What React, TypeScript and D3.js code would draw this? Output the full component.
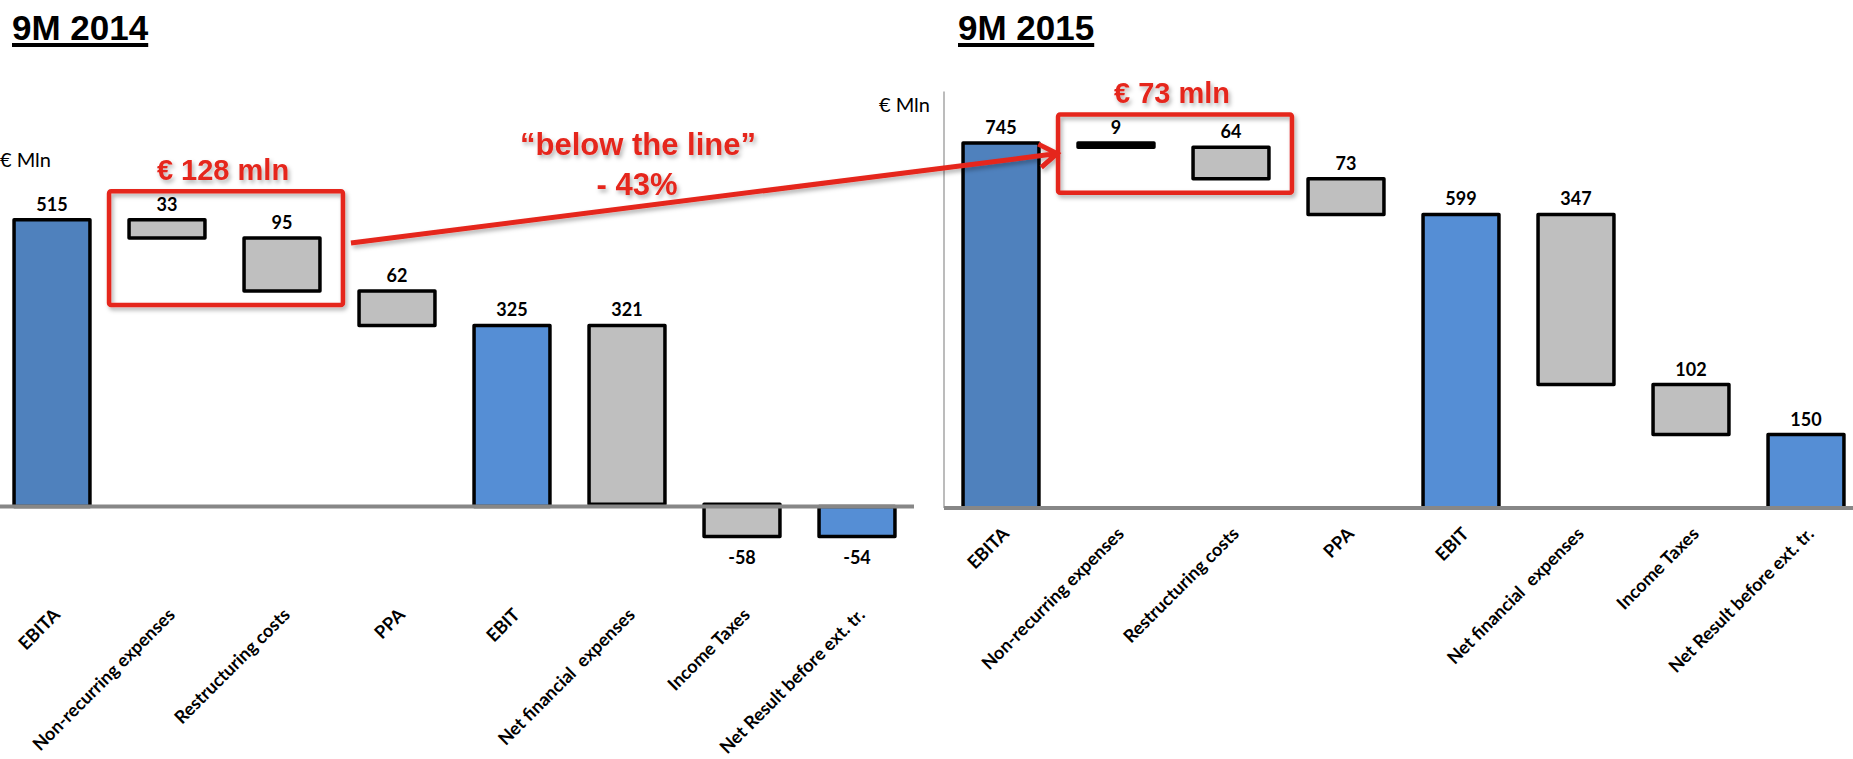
import { useEffect, useRef } from "react";
import * as d3 from "d3";

const categories = [
  "EBITA",
  "Non-recurring expenses",
  "Restructuring costs",
  "PPA",
  "EBIT",
  "Net financial  expenses",
  "Income Taxes",
  "Net Result before ext. tr.",
];
const barKinds = ["start", "delta", "delta", "delta", "total", "delta", "delta", "total"];
const values2014 = [515, -33, -95, -62, 325, -321, -58, -54];
const labels2014 = ["515", "33", "95", "62", "325", "321", "-58", "-54"];
const values2015 = [745, -9, -64, -73, 599, -347, -102, 150];
const labels2015 = ["745", "9", "64", "73", "599", "347", "102", "150"];

const RED = "#e5261c";
const fillFor: Record<string, string> = { start: "#4f81bd", total: "#558ed5", delta: "#bfbfbf" };

interface Step {
  cat: string;
  lo: number;
  hi: number;
  kind: string;
  label: string;
  neg: boolean;
}

function waterfall(values: number[], labels: string[]): Step[] {
  let run = 0;
  return values.map((v, i) => {
    const kind = barKinds[i];
    let a = 0, b = 0;
    if (kind === "delta") {
      a = run;
      b = run + v;
    } else {
      a = 0;
      b = v;
    }
    run = b;
    return { cat: categories[i], lo: Math.min(a, b), hi: Math.max(a, b), kind, label: labels[i], neg: labels[i].startsWith("-") };
  });
}

export default function App() {
  const ref = useRef<SVGSVGElement>(null);

  useEffect(() => {
    if (!ref.current) return;
    document.body.style.margin = "0";
    document.body.style.overflow = "hidden";
    const svg = d3.select(ref.current);
    svg.selectAll("*").remove();

    const defs = svg.append("defs");
    const f = defs.append("filter").attr("id", "shadow").attr("x", "-10%").attr("y", "-10%").attr("width", "130%").attr("height", "140%");
    f.append("feDropShadow").attr("dx", 2).attr("dy", 3).attr("stdDeviation", 2).attr("flood-color", "#000").attr("flood-opacity", 0.3);

    const panels = [
      { title: "9M 2014", titleX: 12, steps: waterfall(values2014, labels2014), xr: [-5.5, 914.5], yr: [506.5, 172.3], dom: [0, 600], base: [0, 914], labY: 616, axis: false, mln: [51, 167] },
      { title: "9M 2015", titleX: 958, steps: waterfall(values2015, labels2015), xr: [943.5, 1863.5], yr: [508, 91.5], dom: [0, 850], base: [944, 1853], labY: 535, axis: true, mln: [930, 112] },
    ];

    const boxes: { x0: number; x1: number; y0: number; y1: number }[] = [];

    panels.forEach((p) => {
      const x = d3.scaleBand<string>().domain(categories).range(p.xr as [number, number]).paddingInner(0.34).paddingOuter(0.17);
      const y = d3.scaleLinear().domain(p.dom).range(p.yr);
      const g = svg.append("g");

      // title with underline
      const t = g.append("text")
        .attr("x", p.titleX).attr("y", 40)
        .style("font-family", "'Liberation Sans', Arial, sans-serif")
        .style("font-weight", "bold").style("font-size", "35px")
        .text(p.title);
      const tw = (t.node() as SVGTextElement).getComputedTextLength();
      g.append("rect").attr("x", p.titleX).attr("y", 43).attr("width", tw).attr("height", 4).attr("fill", "#000");

      g.append("text")
        .attr("x", p.mln[0]).attr("y", p.mln[1])
        .attr("text-anchor", "end")
        .style("font-family", "Lato, sans-serif").style("font-size", "20px")
        .text("€ Mln");

      if (p.axis) {
        g.append("line")
          .attr("x1", p.xr[0] + 0.5).attr("x2", p.xr[0] + 0.5)
          .attr("y1", p.yr[1]).attr("y2", y(0))
          .attr("stroke", "#a6a6a6").attr("stroke-width", 1.5);
      }

      // bars
      g.selectAll("rect.bar").data(p.steps).enter().append("rect")
        .attr("class", "bar")
        .attr("x", (d) => x(d.cat)!)
        .attr("width", x.bandwidth())
        .attr("y", (d) => y(d.hi))
        .attr("height", (d) => y(d.lo) - y(d.hi))
        .attr("fill", (d) => (y(d.lo) - y(d.hi) < 6 ? "#000" : fillFor[d.kind]))
        .attr("stroke", "#000").attr("stroke-width", 3.5).attr("stroke-linejoin", "round");

      // baseline
      g.append("line")
        .attr("x1", p.base[0]).attr("x2", p.base[1])
        .attr("y1", y(0)).attr("y2", y(0))
        .attr("stroke", "#878787").attr("stroke-width", 4);

      // value labels
      g.selectAll("text.val").data(p.steps).enter().append("text")
        .attr("class", "val")
        .attr("x", (d) => x(d.cat)! + x.bandwidth() / 2)
        .attr("y", (d) => (d.neg ? y(d.lo) + 27 : y(d.hi) - 9))
        .attr("text-anchor", "middle")
        .style("font-family", "Lato, sans-serif").style("font-weight", "bold").style("font-size", "18px")
        .text((d) => d.label);

      // category labels
      g.selectAll("text.cat").data(categories).enter().append("text")
        .attr("class", "cat")
        .attr("transform", (d) => `translate(${x(d)! + x.bandwidth() / 2 + 9},${p.labY}) rotate(-45)`)
        .attr("text-anchor", "end")
        .style("font-family", "Lato, sans-serif").style("font-weight", "bold").style("font-size", "18px")
        .style("white-space", "pre")
        .text((d) => d);

      const s1 = p.steps[1], s2 = p.steps[2];
      boxes.push({
        x0: x(s1.cat)! - 20,
        x1: x(s2.cat)! + x.bandwidth() + 23,
        y0: y(Math.max(s1.hi, s2.hi)) - 28.5,
        y1: y(Math.min(s1.lo, s2.lo)) + 14,
      });
    });

    // red annotations
    const ann = svg.append("g").attr("filter", "url(#shadow)");
    const totals = [
      d3.sum(values2014.filter((_, i) => i === 1 || i === 2), (v) => -v),
      d3.sum(values2015.filter((_, i) => i === 1 || i === 2), (v) => -v),
    ];
    boxes.forEach((b, i) => {
      ann.append("rect")
        .attr("x", b.x0).attr("y", b.y0).attr("width", b.x1 - b.x0).attr("height", b.y1 - b.y0)
        .attr("rx", 2).attr("fill", "none").attr("stroke", RED).attr("stroke-width", 4.5);
      ann.append("text")
        .attr("x", (b.x0 + b.x1) / 2 - 3).attr("y", b.y0 - 11)
        .attr("text-anchor", "middle")
        .style("font-family", "'Liberation Sans', Arial, sans-serif").style("font-weight", "bold").style("font-size", "29px")
        .attr("fill", RED)
        .text(`€ ${totals[i]} mln`);
    });

    const [b1, b2] = boxes;
    const sx = b1.x1 + 8, sy = (b1.y0 + b1.y1) / 2 - 5;
    const ex = b2.x0 - 1, ey = (b2.y0 + b2.y1) / 2;
    const ang = Math.atan2(ey - sy, ex - sx) + Math.PI;
    const arm = 21, spread = (34 * Math.PI) / 180;
    ann.append("path")
      .attr("d", `M${sx},${sy}L${ex},${ey}M${ex + arm * Math.cos(ang + spread)},${ey + arm * Math.sin(ang + spread)}L${ex},${ey}L${ex + arm * Math.cos(ang - spread)},${ey + arm * Math.sin(ang - spread)}`)
      .attr("fill", "none").attr("stroke", RED).attr("stroke-width", 5).attr("stroke-linejoin", "miter");

    const pct = Math.round((totals[1] / totals[0] - 1) * 100);
    ann.append("text")
      .attr("x", 638).attr("y", 155).attr("text-anchor", "middle")
      .style("font-family", "'Liberation Sans', Arial, sans-serif").style("font-weight", "bold").style("font-size", "31px")
      .attr("fill", RED)
      .text("“below the line”");
    ann.append("text")
      .attr("x", 637).attr("y", 195).attr("text-anchor", "middle")
      .style("font-family", "'Liberation Sans', Arial, sans-serif").style("font-weight", "bold").style("font-size", "31px")
      .attr("fill", RED)
      .text(`- ${Math.abs(pct)}%`);
  }, []);

  return (
    <svg
      ref={ref}
      width={1853}
      height={759}
      style={{ position: "absolute", left: 0, top: 0, background: "#fff" }}
    />
  );
}
